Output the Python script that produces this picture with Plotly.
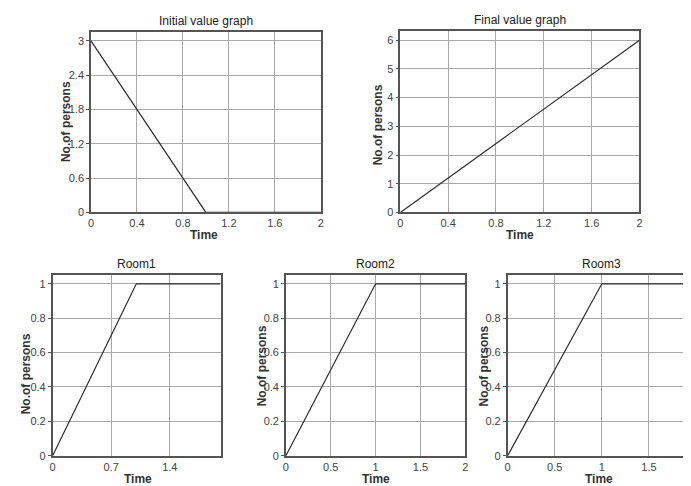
import plotly.graph_objects as go

# ---- data ----
time_initial = [0, 1, 2]
persons_initial = [3, 0, 0]

time_final = [0, 2]
persons_final = [0, 6]

time_room1 = [0, 1, 2]
persons_room1 = [0, 1, 1]

time_room2 = [0, 1, 2]
persons_room2 = [0, 1, 1]

time_room3 = [0, 1, 2]
persons_room3 = [0, 1, 1]

titles = ["Initial value graph", "Final value graph", "Room1", "Room2", "Room3"]
x_title = "Time"
y_title = "No.of persons"

W, H = 691, 486
FONT = "Liberation Sans, Arial, sans-serif"
LINE_COLOR = "#2b2b2b"
GRID_COLOR = "#a8a8a8"
FRAME_COLOR = "#555555"

def px_x(v):
    return v / W

def px_y(v):
    return 1 - v / H

# panel geometry in pixels: (left, right, top, bottom)
panels = [
    (80.7, 312.5, 24, 207),
    (392.7, 634, 23, 207),
    (42, 211.7, 270, 453.3),
    (277.3, 458.3, 270, 453.3),
    (501, 691, 270, 453.3),
]

series = [
    (time_initial, persons_initial),
    (time_final, persons_final),
    (time_room1, persons_room1),
    (time_room2, persons_room2),
    (time_room3, persons_room3),
]

x_ranges = [[0, 2], [0, 2], [0, 2.01], [0, 2], [0, 2]]
x_dticks = [0.4, 0.4, 0.7, 0.5, 0.5]
y_ranges = [[0, 3.16], [0, 6.33], [0, 1.053], [0, 1.053], [0, 1.053]]
y_dticks = [0.6, 1, 0.2, 0.2, 0.2]

# y-title positions (x pixel, center y pixel)
ytitle_pos = [(55, 115), (370, 118), (16, 370), (253, 362), (477, 362)]
# x-title positions (center x pixel, center y pixel)
xtitle_pos = [(195, 230), (513, 230), (128, 477), (368, 477), (593, 477)]

fig = go.Figure()
annotations = []

for i, ((xs, ys), (l, r, t, b)) in enumerate(zip(series, panels)):
    idx = "" if i == 0 else str(i + 1)
    fig.add_trace(go.Scatter(
        x=xs, y=ys, mode="lines",
        line=dict(color=LINE_COLOR, width=1.2),
        xaxis="x" + idx, yaxis="y" + idx, showlegend=False,
        hoverinfo="x+y",
    ))
    common = dict(
        showgrid=True, gridcolor=GRID_COLOR, gridwidth=1,
        showline=True, linecolor=FRAME_COLOR, linewidth=1.5, mirror=True,
        tickfont=dict(family=FONT, size=11, color="#444444"),
        zeroline=False, fixedrange=True,
    )
    fig.update_layout(**{
        "xaxis" + idx: dict(
            domain=[px_x(l), min(px_x(r), 1.0)],
            range=x_ranges[i], dtick=x_dticks[i], tick0=0,
            anchor="y" + idx, ticks="",
            **common,
        ),
        "yaxis" + idx: dict(
            domain=[px_y(b), px_y(t)],
            range=y_ranges[i], dtick=y_dticks[i], tick0=0,
            anchor="x" + idx,
            ticks="outside", ticklen=3, tickcolor=FRAME_COLOR,
            **common,
        ),
    })
    # subplot title
    annotations.append(dict(
        text=titles[i], x=(px_x(l) + min(px_x(r), 1.0)) / 2 if i != 4 else px_x(596),
        y=px_y(t - 2), xref="paper", yref="paper",
        xanchor="center", yanchor="bottom", showarrow=False,
        font=dict(family=FONT, size=12, color="#222222"),
    ))
    # x-axis title
    xx, xy = xtitle_pos[i]
    annotations.append(dict(
        text="<b>" + x_title + "</b>", x=px_x(xx), y=px_y(xy),
        xref="paper", yref="paper", xanchor="center", yanchor="middle",
        showarrow=False,
        font=dict(family=FONT, size=12, color="#333333"),
    ))
    # y-axis title (overlapping tick labels, as in the original)
    yx, yy = ytitle_pos[i]
    annotations.append(dict(
        text="<b>" + y_title + "</b>", x=px_x(yx), y=px_y(yy),
        xref="paper", yref="paper", xanchor="center", yanchor="middle",
        textangle=-90, showarrow=False,
        font=dict(family=FONT, size=12, color="#333333"),
    ))

fig.update_layout(
    width=W, height=H,
    margin=dict(l=0, r=0, t=0, b=0),
    paper_bgcolor="white", plot_bgcolor="white",
    annotations=annotations,
    font=dict(family=FONT),
)

fig.write_html("out.html")
